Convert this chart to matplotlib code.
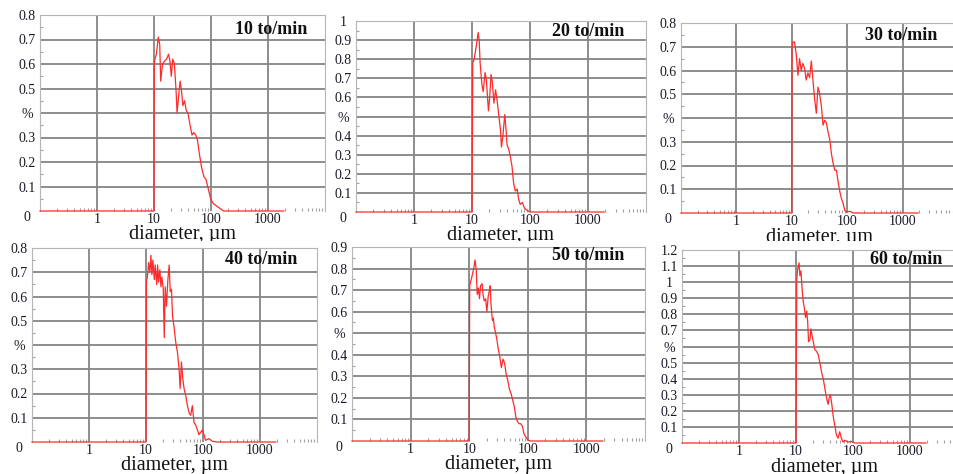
import matplotlib
matplotlib.use('Agg')
import matplotlib.pyplot as plt
import numpy as np
from matplotlib.ticker import LogLocator, NullFormatter, FixedLocator
from matplotlib.transforms import Bbox, TransformedBbox

plt.rcParams['font.family'] = ['Liberation Serif', 'DejaVu Serif']

# ---------------- data ----------------
titles = ['10 to/min', '20 to/min', '30 to/min', '40 to/min', '50 to/min', '60 to/min']
x_label = 'diameter, µm'
x_tick_values = [1, 10, 100, 1000]
x_tick_labels = ['1', '10', '100', '1000']

y_max = [0.8, 1.0, 0.8, 0.8, 0.9, 1.2]
y_labels_10 = ['0', '0.1', '0.2', '0.3', '%', '0.5', '0.6', '0.7', '0.8']
y_labels_20 = ['0', '0.1', '0.2', '0.3', '0.4', '%', '0.6', '0.7', '0.8', '0.9', '1']
y_labels_30 = ['0', '0.1', '0.2', '0.3', '%', '0.5', '0.6', '0.7', '0.8']
y_labels_40 = ['0', '0.1', '0.2', '0.3', '%', '0.5', '0.6', '0.7', '0.8']
y_labels_50 = ['0', '0.1', '0.2', '0.3', '0.4', '%', '0.6', '0.7', '0.8', '0.9']
y_labels_60 = ['0', '0.1', '0.2', '0.3', '0.4', '0.5', '%', '0.7', '0.8', '0.9', '1', '1.1', '1.2']

d10 = [0.1, 10.0, 10.1, 10.4, 11.0, 11.9, 12.6, 13.1, 14.1, 15.1, 16.6, 18.0, 19.1,
       20.1, 21.3, 22.8, 24.4, 25.4, 26.8, 28.7, 30.4, 32.1, 34.4, 36.8, 39.4, 42.2,
       46.4, 49.7, 54.0, 57.8, 61.9, 68.1, 75.0, 81.4, 89.6, 98.6, 110, 126, 145, 166, 1900]
v10 = [0, 0, 0.60, 0.62, 0.64, 0.71, 0.68, 0.53, 0.60, 0.61, 0.62, 0.64, 0.61,
       0.55, 0.62, 0.60, 0.49, 0.40, 0.46, 0.53, 0.49, 0.43, 0.45, 0.41, 0.40, 0.36,
       0.31, 0.32, 0.31, 0.29, 0.24, 0.18, 0.14, 0.13, 0.09, 0.05, 0.03, 0.02, 0.01, 0, 0]

d20 = [0.1, 10.0, 10.3, 10.9, 12.0, 12.8, 13.3, 13.8, 14.8, 15.6, 16.8, 17.7, 19.2,
       20.2, 21.3, 22.4, 23.9, 25.5, 27.2, 29.1, 31.0, 32.2, 34.4, 36.7, 38.7, 40.3,
       42.9, 45.8, 48.9, 52.2, 55.7, 60.2, 63.4, 67.7, 74.2, 80.2, 87.9, 100, 1900]
v20 = [0, 0, 0.78, 0.80, 0.88, 0.94, 0.90, 0.78, 0.67, 0.63, 0.73, 0.69, 0.53,
       0.60, 0.72, 0.68, 0.57, 0.64, 0.58, 0.50, 0.43, 0.34, 0.41, 0.51, 0.43, 0.35,
       0.33, 0.29, 0.24, 0.15, 0.11, 0.12, 0.07, 0.04, 0.05, 0.02, 0.01, 0, 0]

d30 = [0.1, 10.0, 10.1, 10.4, 11.2, 12.0, 12.9, 13.8, 14.8, 15.8, 17.0, 18.2, 19.5,
       21.0, 22.5, 24.1, 25.8, 27.7, 29.7, 31.4, 34.2, 36.6, 39.3, 42.1, 45.2, 48.4,
       51.9, 55.6, 59.7, 64.0, 68.6, 73.6, 78.8, 84.5, 90.7, 97.3, 112, 128, 1900]
v30 = [0, 0, 0.70, 0.72, 0.72, 0.67, 0.58, 0.65, 0.60, 0.63, 0.61, 0.56, 0.59,
       0.57, 0.64, 0.56, 0.48, 0.42, 0.53, 0.51, 0.45, 0.37, 0.39, 0.38, 0.34, 0.31,
       0.25, 0.21, 0.18, 0.18, 0.13, 0.09, 0.06, 0.04, 0.01, 0.005, 0.007, 0, 0]

d40 = [0.1, 10.0, 10.2, 10.7, 11.1, 11.7, 12.2, 12.7, 13.2, 14.0, 14.5, 15.4, 16.0,
       16.6, 17.5, 18.3, 19.0, 20.1, 20.9, 21.7, 22.9, 24.2, 25.5, 26.6, 28.0, 29.2,
       31.2, 33.3, 35.6, 38.1, 39.7, 41.9, 44.2, 46.6, 49.9, 53.3, 57.0, 60.9, 65.1,
       69.6, 74.4, 79.6, 85.1, 91.0, 97.3, 104, 111, 127, 146, 178, 1900]
v40 = [0, 0, 0.66, 0.69, 0.74, 0.70, 0.77, 0.69, 0.75, 0.67, 0.73, 0.65, 0.73,
       0.66, 0.71, 0.64, 0.68, 0.63, 0.43, 0.64, 0.56, 0.67, 0.73, 0.62, 0.63, 0.52,
       0.47, 0.41, 0.37, 0.30, 0.22, 0.33, 0.26, 0.22, 0.19, 0.15, 0.12, 0.11, 0.15,
       0.08, 0.07, 0.05, 0.03, 0.04, 0.05, 0.03, 0.007, 0.014, 0.003, 0, 0]

d50 = [0.1, 10.0, 10.2, 10.6, 11.3, 12.1, 12.6, 13.2, 13.7, 14.3, 15.0, 15.6, 16.6,
       17.2, 18.1, 19.1, 20.0, 21.1, 22.2, 22.8, 23.6, 24.9, 25.8, 26.8, 28.2, 29.3,
       31.2, 33.3, 35.4, 37.8, 40.2, 42.8, 45.6, 48.6, 51.8, 55.2, 58.8, 62.6, 66.7,
       71.1, 75.7, 80.7, 85.9, 91.5, 100, 111, 1900]
v50 = [0, 0, 0.72, 0.74, 0.77, 0.81, 0.84, 0.79, 0.68, 0.71, 0.66, 0.72, 0.73,
       0.68, 0.65, 0.66, 0.60, 0.67, 0.70, 0.72, 0.63, 0.56, 0.57, 0.53, 0.50, 0.48,
       0.43, 0.39, 0.34, 0.38, 0.36, 0.31, 0.28, 0.24, 0.22, 0.19, 0.16, 0.11, 0.09,
       0.08, 0.08, 0.07, 0.035, 0.02, 0.005, 0, 0]

d60 = [0.1, 10.0, 10.3, 10.7, 11.3, 11.7, 12.2, 12.9, 13.4, 14.0, 14.7, 15.4, 16.0,
       16.6, 17.5, 18.3, 19.3, 20.1, 21.4, 22.9, 24.5, 26.2, 28.1, 30.0, 32.1, 34.3,
       36.6, 38.1, 40.2, 42.5, 44.8, 47.9, 51.2, 54.7, 58.5, 62.6, 66.9, 71.6, 81.8,
       93.5, 107, 1900]
v60 = [0, 0, 1.02, 1.08, 1.12, 1.04, 1.07, 0.94, 0.88, 0.84, 0.78, 0.82, 0.76,
       0.63, 0.64, 0.71, 0.66, 0.63, 0.58, 0.57, 0.55, 0.50, 0.44, 0.40, 0.34, 0.28,
       0.24, 0.28, 0.30, 0.24, 0.17, 0.11, 0.05, 0.03, 0.07, 0.03, 0.006, 0.017, 0.006,
       0.01, 0, 0]

diams = [d10, d20, d30, d40, d50, d60]
values = [v10, v20, v30, v40, v50, v60]
y_labels = [y_labels_10, y_labels_20, y_labels_30, y_labels_40, y_labels_50, y_labels_60]

# ---------------- layout (pixels) ----------------
W, H = 954, 474
boxes = [(40, 15, 325, 211), (356, 21, 646, 212), (681, 23, 958, 213),
         (32, 248, 317, 442), (352, 247, 645, 441), (682, 250, 967, 443)]
title_off = [(18, 15), (22, 11), (21, 12), (20, 12), (21, 9), (25, 9)]
label_base = [239, 240, 242, 470, 469, 472]
label_clip = [241, 241, 241, 474, 474, 474]

fig = plt.figure(figsize=(W / 100, H / 100), dpi=100)
fig.patch.set_facecolor('white')

GRID = '#858585'
TXT = '#1a1a26'

for i in range(6):
    l, t, r, b = boxes[i]
    ax = fig.add_axes([l / W, 1 - b / H, (r - l) / W, (b - t) / H])
    ax.set_xscale('log')
    ax.set_xlim(0.1, 10000)
    ax.set_ylim(0, y_max[i])

    yt = np.round(np.arange(0, y_max[i] + 1e-6, 0.1), 2)
    for yv in yt[1:]:
        ax.axhline(yv, color=GRID, lw=1.3, zorder=1)
    for xv in x_tick_values:
        ax.axvline(xv, color=GRID, lw=1.3, zorder=1)

    ax.plot(diams[i], values[i], color='#ff2a2a', lw=0.9, zorder=3, clip_on=False)

    ax.set_yticks(yt, y_labels[i])
    ax.set_xticks(x_tick_values, x_tick_labels)
    ax.xaxis.set_minor_locator(LogLocator(base=10, subs=np.arange(2, 10)))
    ax.xaxis.set_minor_formatter(NullFormatter())
    ax.yaxis.set_minor_locator(FixedLocator(np.arange(0, y_max[i] + 1e-6, 0.05)))
    ax.tick_params(axis='both', which='major', length=0, labelsize=10, labelcolor=TXT)
    ax.tick_params(axis='y', which='major', pad=9.4)
    ax.tick_params(axis='x', which='major', pad=1.5)
    ax.tick_params(axis='both', which='minor', direction='in', length=2.5,
                   width=0.8, color='#a0a0a0')
    for k, lab in enumerate(ax.get_yticklabels()):
        lab.set_ha('center')
        if k == 0:
            lab.set_va('top')

    for side in ['left', 'right', 'top']:
        ax.spines[side].set_color('#b5b5b5')
        ax.spines[side].set_linewidth(0.8)
    ax.spines['bottom'].set_visible(False)

    dx, dy = title_off[i]
    ax.annotate(titles[i], xy=(1, 1), xycoords='axes fraction',
                xytext=(-dx * 0.72, -dy * 0.72), textcoords='offset points',
                ha='right', va='center', fontsize=13, fontweight='bold', color='#111111')

    txt = fig.text((l + r) / 2 / W, 1 - label_base[i] / H, x_label,
                   ha='center', va='baseline', fontsize=14.5, color='#111111')
    cb = TransformedBbox(Bbox([[0, 1 - label_clip[i] / H], [1, 1]]), fig.transFigure)
    txt.set_clip_box(cb)
    txt.set_clip_on(True)

fig.savefig('out.png', dpi=100, facecolor='white')
